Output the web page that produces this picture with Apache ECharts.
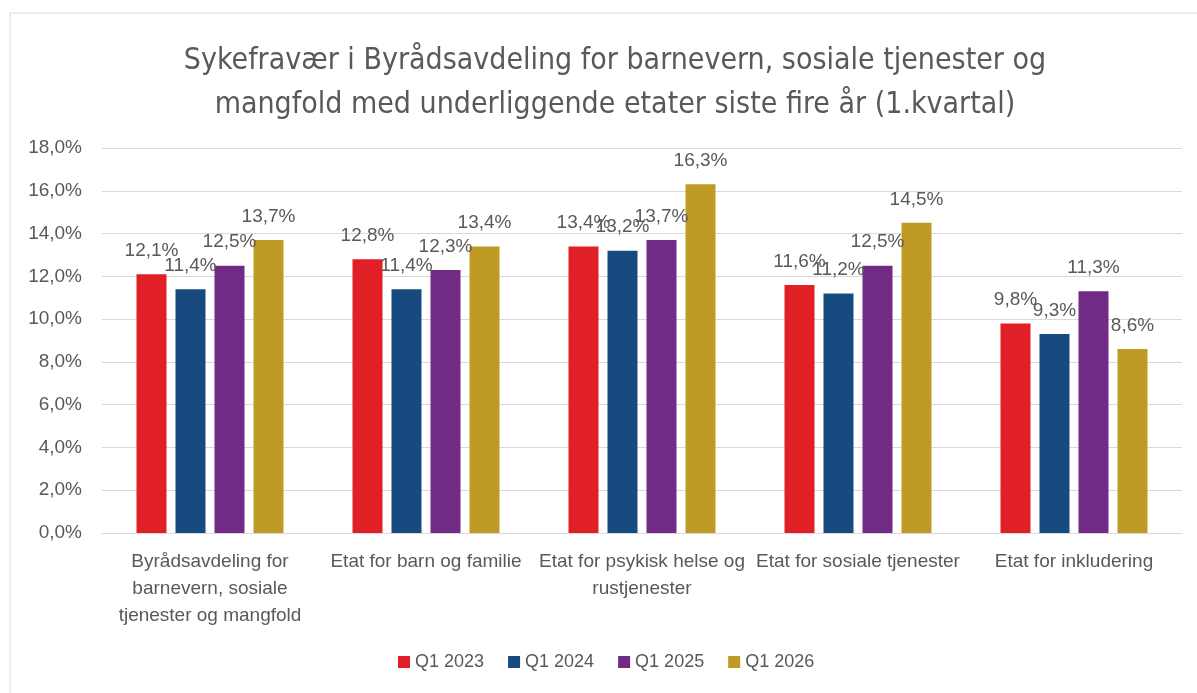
<!DOCTYPE html>
<html>
<head>
<meta charset="utf-8">
<script src="https://cdn.jsdelivr.net/npm/echarts@6/dist/echarts.min.js"></script>
<style>
  html, body { margin: 0; padding: 0; background: #fff; }
  #chart { width: 1197px; height: 693px; }
</style>
</head>
<body>
<div id="chart"></div>
<script>
// kategorier og verdier (1. kvartal)
var categories = [
    'Byrådsavdeling for\nbarnevern, sosiale\ntjenester og mangfold',
    'Etat for barn og familie',
    'Etat for psykisk helse og\nrustjenester',
    'Etat for sosiale tjenester',
    'Etat for inkludering'
];
var seriesNames = ['Q1 2023', 'Q1 2024', 'Q1 2025', 'Q1 2026'];
var q1_2023 = [12.1, 12.8, 13.4, 11.6, 9.8];
var q1_2024 = [11.4, 11.4, 13.2, 11.2, 9.3];
var q1_2025 = [12.5, 12.3, 13.7, 12.5, 11.3];
var q1_2026 = [13.7, 13.4, 16.3, 14.5, 8.6];
var yTicks = [0, 2, 4, 6, 8, 10, 12, 14, 16, 18];

var colors = ['#e01f26', '#174a7e', '#722b84', '#bf9b26'];
var allData = [q1_2023, q1_2024, q1_2025, q1_2026];
var font = 'Liberation Sans, Arial, sans-serif';

function pct(v) {
    return v.toFixed(1).replace('.', ',') + '%';
}

var chart = echarts.init(document.getElementById('chart'));

var series = allData.map(function (d, i) {
    return {
        name: seriesNames[i],
        type: 'bar',
        data: d,
        barWidth: 30,
        barGap: '30%',
        itemStyle: {color: colors[i]},
        label: {
            show: true,
            position: 'top',
            distance: 14,
            color: '#595959',
            fontSize: 19,
            fontFamily: font,
            formatter: function (p) { return pct(p.value); }
        }
    };
});

var option = {
    animation: false,
    color: colors,
    title: {
        text: 'Sykefravær i Byrådsavdeling for barnevern, sosiale tjenester og\nmangfold med underliggende etater siste fire år (1.kvartal)',
        left: 610,
        textAlign: 'center',
        top: 34,
        textStyle: {
            color: '#595959',
            fontSize: 30,
            fontWeight: 'normal',
            lineHeight: 44,
            fontFamily: '"Liberation Sans Narrow", "DejaVu Sans Condensed", sans-serif'
        }
    },
    graphic: [{
        type: 'rect',
        shape: {x: 10, y: 13, width: 1300, height: 800},
        style: {fill: 'none', stroke: '#d9d9d9', lineWidth: 1},
        silent: true
    }],
    legend: {
        data: seriesNames,
        bottom: 17,
        left: 393,
        itemWidth: 12,
        itemHeight: 12,
        itemGap: 24,
        icon: 'rect',
        textStyle: {color: '#595959', fontSize: 18, fontFamily: font}
    },
    grid: {
        left: 102,
        right: 15,
        top: 148,
        bottom: 160
    },
    xAxis: {
        type: 'category',
        data: categories,
        axisTick: {show: false},
        axisLine: {lineStyle: {color: '#d9d9d9'}},
        axisLabel: {
            interval: 0,
            color: '#595959',
            fontSize: 19,
            lineHeight: 27,
            margin: 15,
            fontFamily: font
        }
    },
    yAxis: {
        type: 'value',
        min: yTicks[0],
        max: yTicks[yTicks.length - 1],
        interval: 2,
        axisLine: {show: false},
        axisTick: {show: false},
        splitLine: {lineStyle: {color: '#d9d9d9'}},
        axisLabel: {
            color: '#595959',
            fontSize: 19,
            margin: 20,
            fontFamily: font,
            formatter: function (v) { return pct(v); }
        }
    },
    series: series
};

chart.setOption(option);
</script>
</body>
</html>
